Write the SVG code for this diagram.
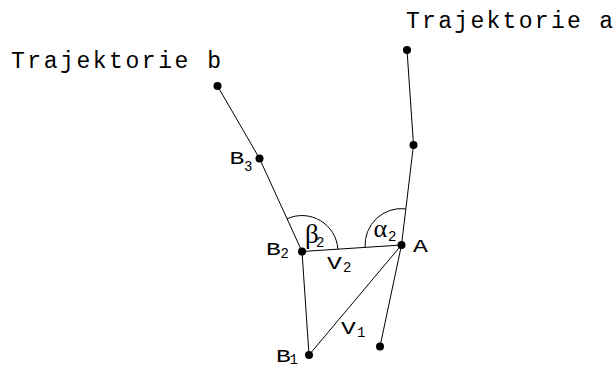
<svg xmlns="http://www.w3.org/2000/svg" width="615" height="366" viewBox="0 0 615 366">
<style>
.ln{stroke:#000;stroke-width:1;fill:none}
.dot{fill:#000}
.t{font-family:"Liberation Mono",monospace;fill:#000}
.title{font-size:23px}
.lab{font-size:19px}
.sub{font-size:14px}
.gr{font-family:"Liberation Serif",serif;fill:#000}
</style>
<rect width="615" height="366" fill="#fff"/>
<g id="connectors">
<polyline class="ln" points="407,50 413.5,145 401.5,245 380,346.5"/>
<polyline class="ln" points="217.5,86 259.5,158.5 302,251.5 309,355"/>
<line class="ln" x1="302" y1="251.5" x2="401.5" y2="245"/>
<line class="ln" x1="309" y1="355" x2="401.5" y2="245"/>
<path class="ln" d="M287,218.8 A36,36 0 0 1 337.9,249.2"/>
<path class="ln" d="M365.1,247.4 A36.5,36.5 0 0 1 405.8,208.8"/>
</g>
<g id="traj-a-1"><circle class="dot" cx="407" cy="50" r="4"/></g>
<g id="traj-a-2"><circle class="dot" cx="413.5" cy="145" r="4"/></g>
<g id="node-A"><circle class="dot" cx="401.5" cy="245" r="4"/><text class="t lab" transform="translate(413,251.5) scale(1.3,1)">A</text></g>
<g id="traj-a-4"><circle class="dot" cx="380" cy="346.5" r="4"/></g>
<g id="traj-b-1"><circle class="dot" cx="217.5" cy="86" r="4"/></g>
<g id="node-B3"><circle class="dot" cx="259.5" cy="158.5" r="4"/><text class="t lab" transform="translate(229.5,164) scale(1.3,1)">B</text><text class="t sub" x="244" y="170.5">3</text></g>
<g id="node-B2"><circle class="dot" cx="302" cy="251.5" r="4"/><text class="t lab" transform="translate(266,254.5) scale(1.3,1)">B</text><text class="t sub" x="280.5" y="258">2</text></g>
<g id="node-B1"><circle class="dot" cx="309" cy="355" r="4"/><text class="t lab" transform="translate(276,361.5) scale(1.3,1)">B</text><text class="t sub" x="289.5" y="364">1</text></g>
<g id="labels">
<text class="t title" x="11" y="68" textLength="210" lengthAdjust="spacing">Trajektorie b</text>
<text class="t title" x="406" y="28" textLength="207" lengthAdjust="spacing">Trajektorie a</text>
<text class="t lab" transform="translate(327,268.5) scale(1.3,1)">V</text><text class="t sub" x="343" y="271.5">2</text>
<text class="t lab" transform="translate(341,333.5) scale(1.3,1)">V</text><text class="t sub" x="357" y="337">1</text>
<text class="gr" x="305" y="243" font-size="27">β</text><text class="t sub" x="316" y="247">2</text>
<text class="gr" x="373.5" y="236.5" font-size="26">α</text><text class="t sub" x="388" y="240.5">2</text>
</g>
</svg>
